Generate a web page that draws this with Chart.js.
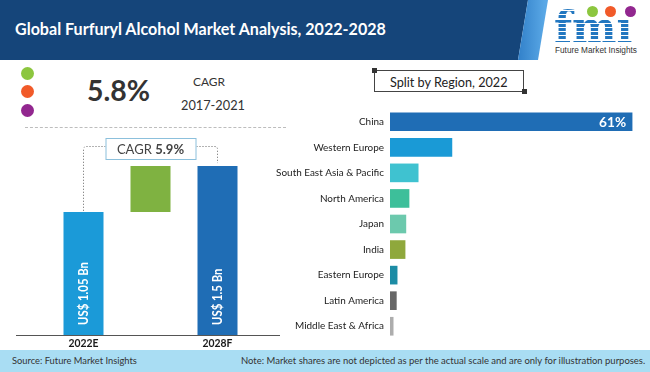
<!DOCTYPE html>
<html><head><meta charset="utf-8">
<script src="https://cdn.jsdelivr.net/npm/chart.js@4.4.1/dist/chart.umd.min.js"></script>
<style>
html,body{margin:0;padding:0;width:650px;height:372px;overflow:hidden;background:#fff;}
#wrap{position:relative;width:650px;height:372px;font-family:Lato,"Open Sans",sans-serif;}
.abs{position:absolute;white-space:nowrap;}
#navy{left:0;top:0;width:650px;height:60px;background:#15457a;clip-path:polygon(0 0,528px 0,518px 60px,0 60px);}
#stripe{left:0;top:0;width:650px;height:60px;background:linear-gradient(90deg,#2d7cc6 515px,#5aa8e6 545px);clip-path:polygon(528px 0,548px 0,538px 60px,518px 60px);}
#title{left:15px;top:19px;height:20px;line-height:20px;color:#fff;font-weight:700;}
#fmi{left:554px;top:7px;height:42px;line-height:42px;font-family:"DejaVu Serif",serif;font-weight:700;font-size:42px;color:transparent;
 background:repeating-linear-gradient(180deg,#2277c0 0px,#2277c0 3px,#ffffff 3px,#ffffff 4.2px);-webkit-background-clip:text;background-clip:text;}
.dot{position:absolute;border-radius:50%;}
#fmitxt{left:555px;top:45px;height:11px;line-height:11px;color:#333;font-family:"Liberation Sans",Arial,sans-serif;}
#big{left:87px;top:76px;height:28px;line-height:28px;color:#333;font-weight:700;}
#cagr1{left:193px;top:75px;height:14px;line-height:14px;color:#333;}
#cagr2{left:181px;top:98px;height:14px;line-height:14px;color:#333;}
#dash{left:25px;top:127px;width:261px;height:0;border-top:1px dashed #bdbdbd;}
#split{left:374px;top:70px;width:150px;height:22px;border:1px solid #444;box-sizing:border-box;}
#splittxt{left:390px;top:74px;height:16px;line-height:16px;color:#222;}
.sq{position:absolute;width:5px;height:5px;background:#333;}
#foot{left:0;top:350px;width:650px;height:22px;background:#a9ddf3;}
#src{left:12px;top:355px;height:12px;line-height:12px;color:#333;}
#note{left:241px;top:355px;height:12px;line-height:12px;color:#333;}
canvas{position:absolute;}
</style></head>
<body><div id="wrap">
<div class="abs" id="navy"></div>
<div class="abs" id="stripe"></div>
<div class="abs" id="title" data-w="372">Global Furfuryl Alcohol Market Analysis, 2022-2028</div>
<div class="abs" id="fmi">fmı</div>
<div class="dot" style="left:587px;top:6px;width:11px;height:11px;background:#8cc63f"></div>
<div class="dot" style="left:605px;top:6px;width:11px;height:11px;background:#f15a29"></div>
<div class="dot" style="left:625px;top:6px;width:11px;height:11px;background:#92278f"></div>
<div class="abs" id="fmitxt" data-w="82">Future Market Insights</div>

<div class="dot" style="left:21px;top:67px;width:13px;height:13px;background:#8cc63f"></div>
<div class="dot" style="left:21px;top:85px;width:13px;height:13px;background:#f15a29"></div>
<div class="dot" style="left:21px;top:104px;width:13px;height:13px;background:#92278f"></div>
<div class="abs" id="big" data-w="63">5.8%</div>
<div class="abs" id="cagr1" data-w="32">CAGR</div>
<div class="abs" id="cagr2" data-w="64">2017-2021</div>
<div class="abs" id="dash"></div>

<div class="abs" id="split"></div>
<div class="sq" style="left:372px;top:68px"></div>
<div class="sq" style="left:522px;top:89px"></div>
<div class="abs" id="splittxt" data-w="118">Split by Region, 2022</div>

<canvas id="left" width="280" height="220" style="left:0;top:130px"></canvas>
<canvas id="right" width="380" height="254" style="left:270px;top:97px"></canvas>

<div class="abs" id="foot"></div>
<div class="abs" id="src" data-w="125">Source: Future Market Insights</div>
<div class="abs" id="note" data-w="405">Note: Market shares are not depicted as per the actual scale and are only for illustration purposes.</div>
</div>
<script>
// ---------- data ----------
const marketYears = ['2022E', '', '2028F'];
const marketValues = [1.05, 1.5];
const marketValueLabels = ['US$ 1.05 Bn', 'US$ 1.5 Bn'];
const forecastCagrLabel = 'CAGR';
const forecastCagrValue = '5.9%';
const regions = ['China', 'Western Europe', 'South East Asia & Pacific', 'North America', 'Japan', 'India', 'Eastern Europe', 'Latin America', 'Middle East & Africa'];
const regionShares = [61, 15.6, 7.1, 4.8, 4.0, 3.8, 1.8, 1.6, 0.8];
const regionLabelShown = '61%';

// ---------- styles ----------
const FONT = 'Lato, "Open Sans", sans-serif';
const marketColors = ['#1b9ad8', '#7fb241', '#1f6db5'];
const regionColors = ['#1f6db5', '#1a9ad6', '#3fc2d0', '#3dbf9a', '#6cc9ad', '#8fa83c', '#1c8ca5', '#676767', '#adadad'];

const mctx = document.createElement('canvas').getContext('2d');
function measure(text, weight, size, fam) { mctx.font = weight + ' ' + size + 'px ' + fam; return mctx.measureText(text).width; }
function fitSize(text, weight, fam, target) { return 100 * target / measure(text, weight, 100, fam); }
document.querySelectorAll('[data-w]').forEach(el => {
  const cs = getComputedStyle(el);
  el.style.fontSize = fitSize(el.textContent, cs.fontWeight, cs.fontFamily, +el.dataset.w) + 'px';
});

const AXIS_MIN = -0.153, AXIS_MAX = 1.657;
const leftData = [[AXIS_MIN, marketValues[0]], [marketValues[0], marketValues[1]], [AXIS_MIN, marketValues[1]]];

const leftDeco = {
  id: 'leftDeco',
  afterDatasetsDraw(chart) {
    const ctx = chart.ctx, ca = chart.chartArea;
    const bars = chart.getDatasetMeta(0).data;
    ctx.save();
    ctx.strokeStyle = '#555'; ctx.lineWidth = 1;
    ctx.beginPath(); ctx.moveTo(16, Math.round(ca.bottom) + 0.5); ctx.lineTo(286, Math.round(ca.bottom) + 0.5); ctx.stroke();
    const ys = fitSize('2022E', '700', FONT, 30);
    ctx.fillStyle = '#1a1a1a'; ctx.font = '700 ' + ys + 'px ' + FONT; ctx.textAlign = 'center'; ctx.textBaseline = 'middle';
    [0, 2].forEach(i => ctx.fillText(marketYears[i], bars[i].x, ca.bottom + 8.5));
    // rotated value labels, slightly condensed to match the reference's narrow face
    const vsz = 13.5;
    ctx.font = '700 ' + vsz + 'px ' + FONT; ctx.fillStyle = '#fff'; ctx.textAlign = 'left';
    const sx = 63 / ctx.measureText(marketValueLabels[0]).width;
    [[0, 0], [2, 1]].forEach(([bi, li]) => {
      ctx.save(); ctx.translate(bars[bi].x, ca.bottom - 10); ctx.rotate(-Math.PI / 2); ctx.scale(sx, 1);
      ctx.fillText(marketValueLabels[li], 0, 0); ctx.restore();
    });
    const cx = bars[1].x, bx0 = cx - 45, bx1 = cx + 46, by0 = 8, by1 = 30;
    const ly = 16.5;
    ctx.strokeStyle = '#666'; ctx.setLineDash([1, 2]); ctx.lineWidth = 1;
    const r = 3;
    ctx.beginPath();
    ctx.moveTo(bx0, ly); ctx.lineTo(bars[0].x + r, ly); ctx.quadraticCurveTo(bars[0].x, ly, bars[0].x, ly + r); ctx.lineTo(bars[0].x, bars[0].y);
    ctx.moveTo(bx1, ly); ctx.lineTo(bars[2].x - r, ly); ctx.quadraticCurveTo(bars[2].x, ly, bars[2].x, ly + r); ctx.lineTo(bars[2].x, bars[2].y - 3);
    ctx.stroke(); ctx.setLineDash([]);
    ctx.fillStyle = '#fff'; ctx.fillRect(bx0, by0, bx1 - bx0, by1 - by0);
    ctx.strokeStyle = '#8cc0dc'; ctx.strokeRect(bx0 + 0.5, by0 + 0.5, bx1 - bx0 - 1, by1 - by0 - 1);
    const cs = fitSize(forecastCagrLabel + ' ' + forecastCagrValue, '400', FONT, 67);
    ctx.font = '400 ' + cs + 'px ' + FONT;
    const w1 = ctx.measureText(forecastCagrLabel + ' ').width;
    ctx.font = '700 ' + cs + 'px ' + FONT;
    const w2 = ctx.measureText(forecastCagrValue).width;
    let tx = cx - (w1 + w2) / 2;
    ctx.textAlign = 'left'; ctx.fillStyle = '#444';
    ctx.font = '400 ' + cs + 'px ' + FONT; ctx.fillText(forecastCagrLabel + ' ', tx, 19.5);
    ctx.font = '700 ' + cs + 'px ' + FONT; ctx.fillText(forecastCagrValue, tx + w1, 19.5);
    ctx.restore();
  }
};

new Chart(document.getElementById('left'), {
  type: 'bar',
  data: { labels: marketYears, datasets: [{ data: leftData, backgroundColor: marketColors, borderWidth: 0, barPercentage: 1, categoryPercentage: 40 / 67 }] },
  options: {
    responsive: false, animation: false, events: [],
    plugins: { legend: { display: false }, tooltip: { enabled: false } },
    layout: { padding: { left: 50, right: 29, top: 20, bottom: 15 } },
    scales: { x: { display: false }, y: { display: false, min: AXIS_MIN, max: AXIS_MAX } }
  },
  plugins: [leftDeco]
});

const labelSize = fitSize('South East Asia & Pacific', '400', FONT, 108);
const rightDeco = {
  id: 'rightDeco',
  afterDatasetsDraw(chart) {
    const ctx = chart.ctx; const b = chart.getDatasetMeta(0).data[0];
    ctx.save();
    ctx.font = '700 ' + fitSize(regionLabelShown, '700', FONT, 27) + 'px ' + FONT;
    ctx.fillStyle = '#fff'; ctx.textAlign = 'right'; ctx.textBaseline = 'middle';
    ctx.fillText(regionLabelShown, b.x - 6, b.y + 1);
    ctx.restore();
  }
};
new Chart(document.getElementById('right'), {
  type: 'bar',
  data: { labels: regions, datasets: [{ data: regionShares, backgroundColor: regionColors, borderWidth: 0, barThickness: 18 }] },
  options: {
    indexAxis: 'y', responsive: false, animation: false, events: [],
    plugins: { legend: { display: false }, tooltip: { enabled: false } },
    layout: { padding: { left: 0, right: 6, top: 0, bottom: 0 } },
    scales: {
      x: { display: false, min: 0, max: 64 },
      y: {
        grid: { display: false, drawTicks: false }, border: { display: false },
        ticks: { color: '#222', font: { family: FONT, size: labelSize }, padding: 6 },
        afterFit(s) { s.width = 120; }
      }
    }
  },
  plugins: [rightDeco]
});
</script>
</body></html>
